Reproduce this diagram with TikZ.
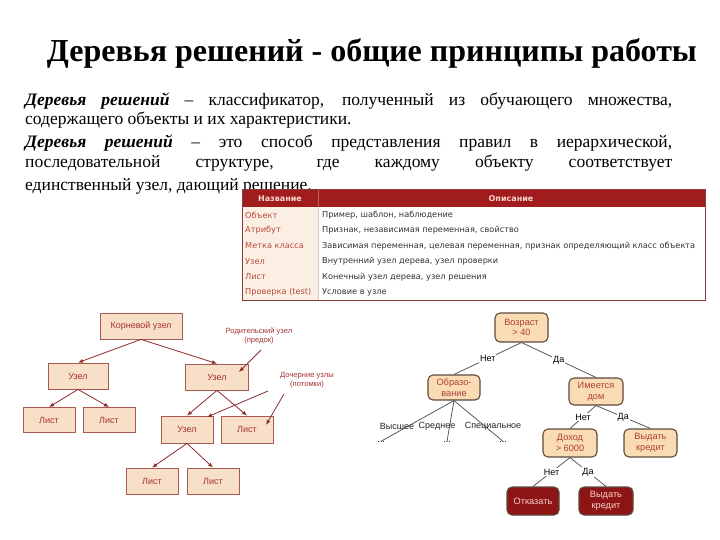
\documentclass[tikz,border=0pt]{standalone}
\usepackage{fontspec}
\setmainfont{Liberation Serif}
\newfontfamily\sfx{Liberation Sans}
\newfontfamily\dvs{DejaVu Sans}
\usetikzlibrary{arrows.meta}
\definecolor{hdr}{HTML}{A11D1D}
\definecolor{hdrtxt}{HTML}{F6D6D0}
\definecolor{lcol}{HTML}{FBEFE4}
\definecolor{lcoltxt}{HTML}{B8493C}
\definecolor{rcoltxt}{HTML}{333333}
\definecolor{tborder}{HTML}{8A3A3A}
\definecolor{boxfill}{HTML}{F8E0C8}
\definecolor{boxdraw}{HTML}{A85A52}
\definecolor{boxtxt}{HTML}{A83232}
\definecolor{edgecol}{HTML}{8E2B2B}
\definecolor{rfill}{HTML}{F9DCB4}
\definecolor{rdraw}{HTML}{5E4A3A}
\definecolor{rtxt}{HTML}{B0403A}
\definecolor{dfill}{HTML}{8E1515}
\definecolor{dtxt}{HTML}{F8D0C8}
\definecolor{greyline}{HTML}{5A5A5A}
\tikzset{
  lbox/.style={draw=boxdraw, fill=boxfill, line width=0.8pt, text=boxtxt,
    font=\sfx\fontsize{9}{10}\selectfont, inner sep=0pt, align=center},
  larrow/.style={draw=edgecol, line width=0.8pt, -{Latex[length=5pt,width=4pt]}},
  lnote/.style={text=boxtxt, font=\sfx\fontsize{7.6}{9.5}\selectfont, align=center, inner sep=0pt},
  rbox/.style={draw=rdraw, fill=rfill, line width=1.1pt, rounded corners=5pt, text=rtxt,
    font=\sfx\fontsize{9.2}{10.5}\selectfont, inner sep=0pt, align=center},
  dbox/.style={draw=rdraw, fill=dfill, line width=1.1pt, rounded corners=5pt, text=dtxt,
    font=\sfx\fontsize{9.2}{10.5}\selectfont, inner sep=0pt, align=center},
  redge/.style={draw=greyline, line width=0.8pt},
  elab/.style={fill=white, inner sep=1pt, font=\sfx\fontsize{9}{10}\selectfont, text=black},
  tcell/.style={anchor=west, inner sep=0pt, font=\dvs\fontsize{8.2}{9.5}\selectfont},
  thead/.style={inner sep=0pt, text=hdrtxt, font=\dvs\fontsize{8}{9}\selectfont\bfseries},
  bodyline/.style={anchor=base west, inner sep=0pt, font=\fontsize{17.5}{19}\selectfont}
}
\begin{document}
\begin{tikzpicture}[x=1pt,y=-1pt]
\useasboundingbox (0,0) rectangle (720,540);
\fill[white] (0,0) rectangle (720,540);

% title
\node[anchor=base, inner sep=0pt, font=\fontsize{32}{38}\selectfont\bfseries] (title) at (372,62)
  {Деревья решений - общие принципы работы};

% body text
\node[bodyline] (p1) at (25,106) {\makebox[647pt][s]{\textbf{\textit{Деревья решений}} – классификатор, полученный из обучающего множества,}};
\node[bodyline] (p2) at (25,124.5) {содержащего объекты и их характеристики.};
\node[bodyline] (p3) at (25,148) {\makebox[647pt][s]{\textbf{\textit{Деревья решений}} – это способ представления правил в иерархической,}};
\node[bodyline] (p4) at (25,168) {\makebox[647pt][s]{последовательной структуре, где каждому объекту соответствует}};
\node[bodyline] (p5) at (25,191) {единственный узел, дающий решение.};

% table
\fill[white] (242,190) rectangle (705,300);
\fill[hdr] (242,190) rectangle (705,207);
\fill[lcol] (242,207) rectangle (318,300);
\draw[hdr!70!white, line width=0.6pt] (318,190) -- (318,207);
\draw[gray!40, line width=0.6pt] (318,207) -- (318,300);
\draw[tborder, line width=1pt] (242,190) rectangle (705,300);
\node[thead] (h1) at (280,199) {Название};
\node[thead] (h2) at (511,199) {Описание};
\foreach \y/\a/\b [count=\i] in {
  215/Объект/{Пример, шаблон, наблюдение},
  230.5/Атрибут/{Признак, независимая переменная, свойство},
  246/Метка класса/{Зависимая переменная, целевая переменная, признак определяющий класс объекта},
  261.5/Узел/{Внутренний узел дерева, узел проверки},
  277/Лист/{Конечный узел дерева, узел решения},
  292.5/Проверка (test)/{Условие в узле}}{
  \node[tcell, text=lcoltxt] (ta\i) at (245,\y) {\a};
  \node[tcell, text=rcoltxt] (tb\i) at (322,\y) {\b};
}

% left tree
\node[lbox, minimum width=82pt, minimum height=26pt] (root) at (141,326) {Корневой узел};
\node[lbox, minimum width=60pt, minimum height=26pt] (u1) at (78,376) {Узел};
\node[lbox, minimum width=63pt, minimum height=26pt] (u2) at (217,377) {Узел};
\node[lbox, minimum width=52pt, minimum height=25pt] (l1) at (49,420) {Лист};
\node[lbox, minimum width=52pt, minimum height=25pt] (l2) at (109,420) {Лист};
\node[lbox, minimum width=52pt, minimum height=27pt] (u3) at (187,429.5) {Узел};
\node[lbox, minimum width=52pt, minimum height=27pt] (l3) at (247,429.5) {Лист};
\node[lbox, minimum width=52pt, minimum height=26pt] (l4) at (152,481) {Лист};
\node[lbox, minimum width=52pt, minimum height=26pt] (l5) at (213,481) {Лист};
\draw[larrow] (root.south) -- (u1.north);
\draw[larrow] (root.south) -- (u2.north);
\draw[larrow] (u1.south) -- (l1.north);
\draw[larrow] (u1.south) -- (l2.north);
\draw[larrow] (u2.south) -- (u3.north);
\draw[larrow] (u2.south) -- (l3.north);
\draw[larrow] (u3.south) -- (l4.north);
\draw[larrow] (u3.south) -- (l5.north);

\node[lnote] (n1) at (259,336) {Родительский узел\\(предок)};
\node[lnote] (n2) at (307,380) {Дочерние узлы\\(потомки)};
\coordinate (n1a) at (261,350);
\coordinate (u2t) at (239,372);
\coordinate (n2a) at (268,391);
\coordinate (n2b) at (284,394);
\coordinate (u3t) at (207,417);
\coordinate (l3t) at (266,425);
\draw[larrow] (n1a) -- (u2t);
\draw[larrow] (n2a) -- (u3t);
\draw[larrow] (n2b) -- (l3t);

% right tree
\node[rbox, minimum width=53pt, minimum height=29pt] (r0) at (521.5,327.5) {Возраст\\> 40};
\node[rbox, minimum width=52pt, minimum height=25pt] (r1) at (454,387.5) {Образо-\\вание};
\node[rbox, minimum width=54pt, minimum height=27pt] (r2) at (596,391.5) {Имеется\\дом};
\node[rbox, minimum width=54pt, minimum height=28pt] (r3) at (570,443) {Доход\\> 6000};
\node[rbox, minimum width=53pt, minimum height=28pt] (r4) at (650.5,443) {Выдать\\кредит};
\node[dbox, minimum width=52pt, minimum height=28pt] (r5) at (533,501) {Отказать};
\node[dbox, minimum width=54pt, minimum height=28pt] (r6) at (606,501) {Выдать\\кредит};

\node[inner sep=0pt, font=\sfx\fontsize{9}{10}\selectfont] (d1) at (381,442) {...};
\node[inner sep=0pt, font=\sfx\fontsize{9}{10}\selectfont] (d2) at (447,442) {...};
\node[inner sep=0pt, font=\sfx\fontsize{9}{10}\selectfont] (d3) at (503,442) {...};
\draw[redge] (r1.south) -- (d1.north);
\draw[redge] (r1.south) -- (d2.north);
\draw[redge] (r1.south) -- (d3.north);
\node[inner sep=0pt, font=\sfx\fontsize{9}{10}\selectfont, text=black!85] (e1) at (397,426) {Высшее};
\node[inner sep=0pt, font=\sfx\fontsize{9}{10}\selectfont, text=black!85] (e2) at (437,426) {Среднее};
\node[inner sep=0pt, font=\sfx\fontsize{9}{10}\selectfont, text=black!85] (e3) at (493,426) {Специальное};

\draw[redge] (r0.south) -- node[elab, pos=0.5] {Нет} (r1.north);
\draw[redge] (r0.south) -- node[elab, pos=0.5] {Да} (r2.north);
\draw[redge] (r2.south) -- node[elab, pos=0.5] {Нет} (r3.north);
\draw[redge] (r2.south) -- node[elab, pos=0.5] {Да} (r4.north);
\draw[redge] (r3.south) -- node[elab, pos=0.5] {Нет} (r5.north);
\draw[redge] (r3.south) -- node[elab, pos=0.5] {Да} (r6.north);
\end{tikzpicture}
\end{document}
